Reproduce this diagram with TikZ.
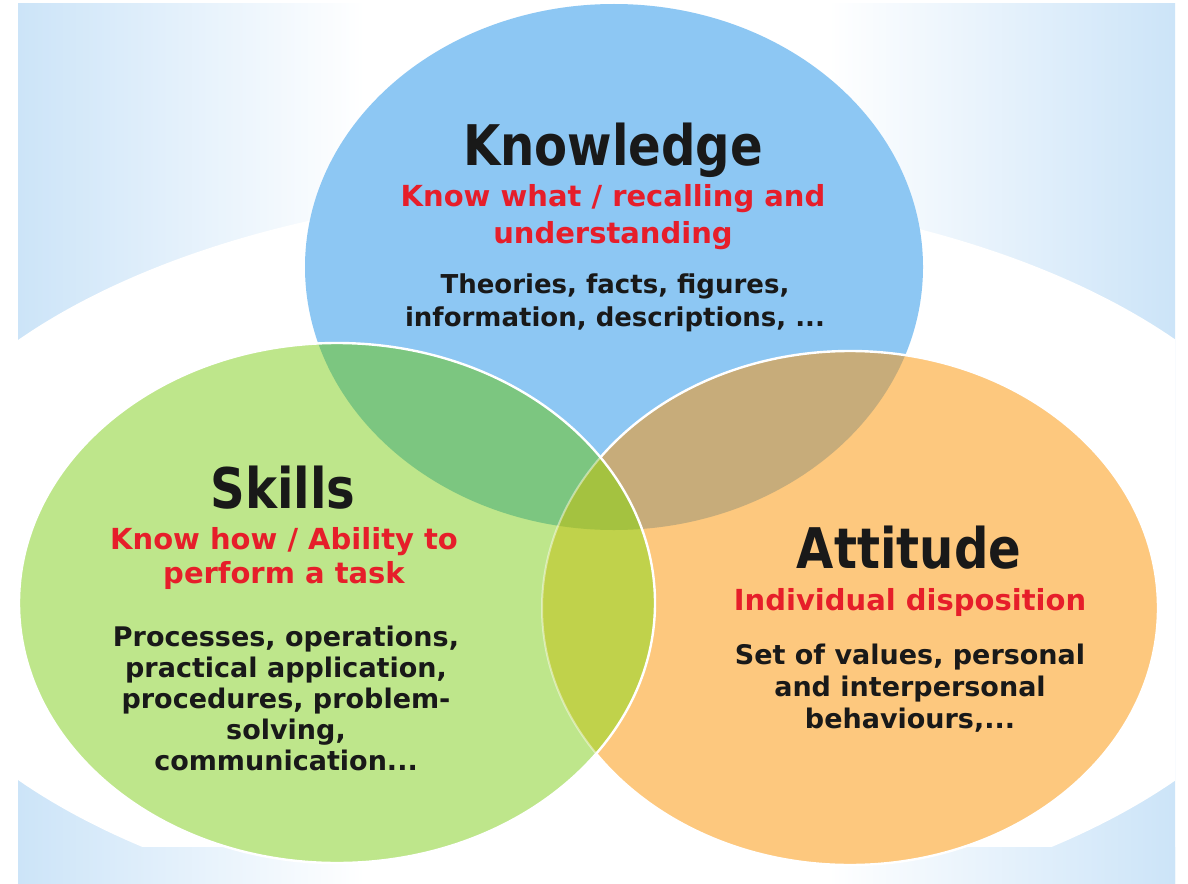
\documentclass[tikz,border=0pt]{standalone}
\usepackage{fontspec}
\setmainfont{DejaVu Sans}
\newfontfamily\headfont{DejaVu Sans}[FakeStretch=0.86]
\usetikzlibrary{positioning}
\definecolor{bgblue}{HTML}{CCE4F8}
\definecolor{knowblue}{HTML}{8DC7F3}
\definecolor{skillgreen}{HTML}{BEE68B}
\definecolor{attorange}{HTML}{FDC87E}
\definecolor{bluegreen}{HTML}{7CC680}
\definecolor{blueorange}{HTML}{C7AC7A}
\definecolor{greenorange}{HTML}{C0D24B}
\definecolor{allthree}{HTML}{A4C240}
\definecolor{rosu}{HTML}{E61E2A}
\pgfdeclarehorizontalshading{slidebg}{100bp}{color(0bp)=(bgblue); color(25bp)=(bgblue); color(40bp)=(white); color(60bp)=(white); color(75bp)=(bgblue); color(100bp)=(bgblue)}
\tikzset{
	knowpath/.style={insert path={(614,267) ellipse [x radius=309, y radius=263]}},
	skillpath/.style={insert path={(337,603) ellipse [x radius=318, y radius=260]}},
	attpath/.style={insert path={(850,608) ellipse [x radius=308, y radius=257]}},
	ringline/.style={draw=white, line width=1.2pt}
}

\begin{document}
\begin{tikzpicture}[x=0.5pt, y=-0.5pt,
		head/.style={font=\headfont\bfseries\fontsize{28}{30}\selectfont, text=black!90, inner sep=0, anchor=base},
		redtext/.style={font=\bfseries\fontsize{14.5}{18.5}\selectfont, text=rosu, align=center, inner sep=0},
		bodytext/.style={font=\bfseries\fontsize{13.5}{16}\selectfont, text=black!90, align=center, inner sep=0}]
	\useasboundingbox (0,0) rectangle (1188,883);
	% slide background
	\fill[white] (0,0) rectangle (1188,883);
	\begin{scope}
		\clip (18,4) rectangle (1175,883);
		\shade[shading=slidebg] (18,4) rectangle (1175,883);
		\fill[white] (597,560) ellipse [x radius=720, y radius=370];
		\shade[shading=slidebg] (18,847) rectangle (1175,883);
	\end{scope}
	% the three sets
	\fill[knowblue, knowpath];
	\fill[attorange, attpath];
	\begin{scope}
		\clip[knowpath];
		\fill[blueorange, attpath];
	\end{scope}
	\draw[ringline, attpath];
	\fill[skillgreen, skillpath];
	\begin{scope}
		\clip[skillpath];
		\fill[bluegreen, knowpath];
		\fill[greenorange, attpath];
		\begin{scope}
			\clip[knowpath];
			\fill[allthree, attpath];
		\end{scope}
		\draw[white, opacity=.45, line width=1pt, attpath];
	\end{scope}
	\draw[ringline, skillpath];
	% labels
	\node[head] (know) at (613,165) {Knowledge};
	\node[redtext] (knowred) at (613,217) {Know what / recalling and\\understanding};
	\node[bodytext, font=\bfseries\fontsize{13}{16.5}\selectfont] (knowtext) at (615,303) {Theories, facts, figures,\\information, descriptions, ...};

	\node[head] (skill) at (283,508) {Skills};
	\node[redtext, font=\bfseries\fontsize{14.5}{17}\selectfont] (skillred) at (284,558) {Know how / Ability to\\perform a task};
	\node[bodytext, font=\bfseries\fontsize{13.5}{15.5}\selectfont] (skilltext) at (286,698) {Processes, operations,\\practical application,\\procedures, problem-\\solving,\\communication...};

	\node[head] (att) at (909,568) {Attitude};
	\node[redtext, anchor=base] (attred) at (910,610) {Individual disposition};
	\node[bodytext] (atttext) at (910,688) {Set of values, personal\\and interpersonal\\behaviours,...};
\end{tikzpicture}
\end{document}
